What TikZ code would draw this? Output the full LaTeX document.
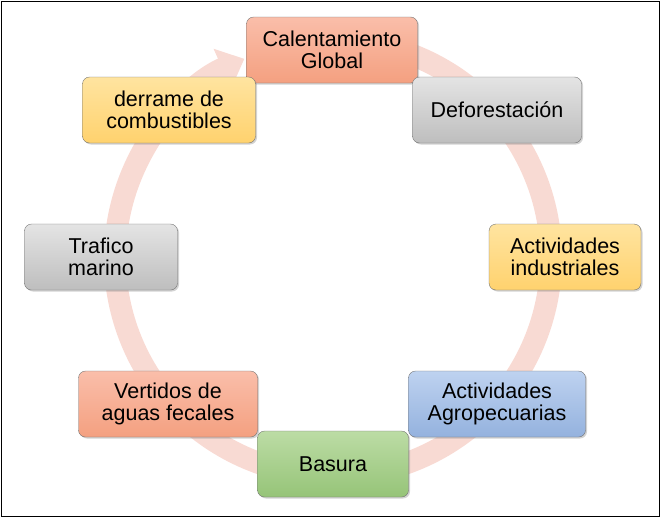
\documentclass[tikz,border=0pt]{standalone}
\usepackage{fontspec}
\setmainfont{Liberation Sans}
\usetikzlibrary{shadows,arrows.meta}
\definecolor{ring}{HTML}{F8DAD3}
\begin{document}
\begin{tikzpicture}[x=1pt,y=1pt,
 box/.style={draw=black!55,rounded corners=7pt,minimum width=#1,minimum height=66pt,align=center,font=\fontsize{21.5}{22}\selectfont,drop shadow={shadow xshift=1.5pt,shadow yshift=-1.5pt,opacity=0.35}},
 sal/.style={box=#1,top color={rgb,255:red,250;green,190;blue,170},bottom color={rgb,255:red,244;green,160;blue,128}},
 gry/.style={box=#1,top color={rgb,255:red,228;green,228;blue,228},bottom color={rgb,255:red,190;green,190;blue,190}},
 yel/.style={box=#1,top color={rgb,255:red,255;green,228;blue,160},bottom color={rgb,255:red,255;green,210;blue,110}},
 blu/.style={box=#1,top color={rgb,255:red,190;green,210;blue,240},bottom color={rgb,255:red,148;green,178;blue,222}},
 grn/.style={box=#1,top color={rgb,255:red,188;green,220;blue,165},bottom color={rgb,255:red,150;green,196;blue,120}}]
\useasboundingbox (0,0) rectangle (660,-517);
\draw[line width=1pt] (1,-1) rectangle (659,-516);
\draw[ring,line width=22pt,-{Triangle[width=42pt,length=24pt]}] (333,-258) ++(70:218) arc[start angle=70,end angle=-246,radius=218];
\node[sal=171pt] (a) at (332,-50) {Calentamiento\\Global};
\node[gry=169pt] (b) at (497,-110) {Deforestación};
\node[yel=152pt] (c) at (565,-257) {Actividades\\industriales};
\node[blu=177pt] (d) at (497,-404) {Actividades\\Agropecuarias};
\node[grn=151pt] (e) at (333,-464) {Basura};
\node[sal=179pt] (f) at (168,-404) {Vertidos de\\aguas fecales};
\node[gry=153pt] (g) at (101,-257) {Trafico\\marino};
\node[yel=173pt] (h) at (169,-110) {derrame de\\combustibles};
\end{tikzpicture}
\end{document}
